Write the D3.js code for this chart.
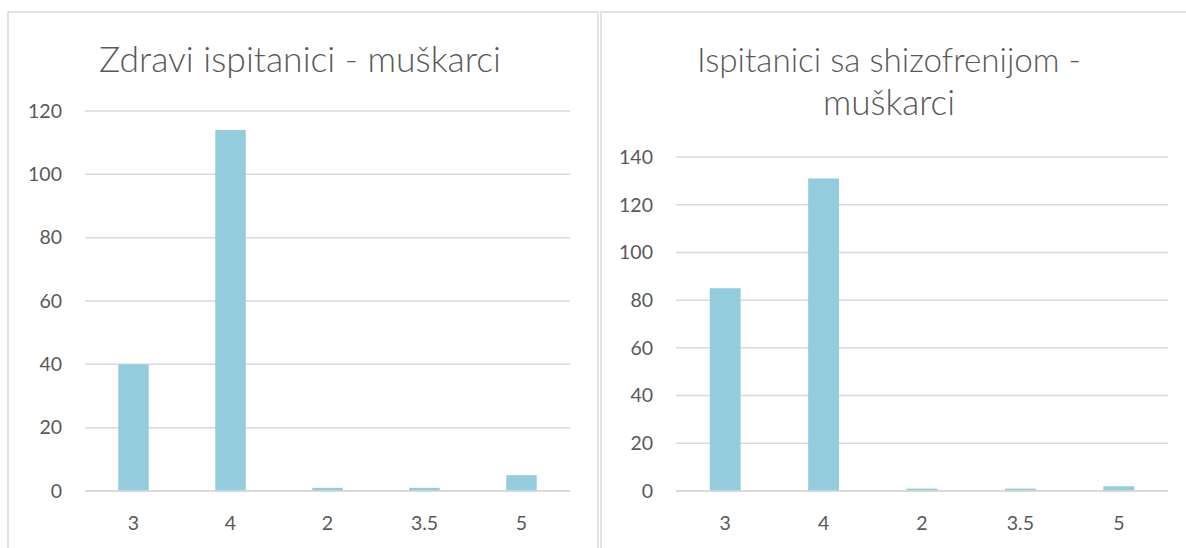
<!DOCTYPE html>
<html><head><meta charset="utf-8">
<script src="https://cdn.jsdelivr.net/npm/d3@7"></script>
<style>
html,body{margin:0;padding:0;background:#fff;}
svg{display:block;}
text{font-family:Lato,"Open Sans","Noto Sans",sans-serif;fill:#595959;}
</style></head>
<body>
<svg id="c" width="1186" height="548"></svg>
<script>
const categories = ["3", "4", "2", "3.5", "5"];
const healthyValues = [40, 114, 1, 1, 5];
const schizoValues = [85, 131, 1, 1, 2];
const healthyTicks = [0, 20, 40, 60, 80, 100, 120];
const schizoTicks = [0, 20, 40, 60, 80, 100, 120, 140];
const titleLeft = ["Zdravi ispitanici - muškarci"];
const titleRight = ["Ispitanici sa shizofrenijom -", "muškarci"];

const svg = d3.select("#c");
const barColor = "#93cddd";
const gridColor = "#d9d9d9";

// panel borders
svg.append("rect").attr("x", 8).attr("y", 12).attr("width", 590).attr("height", 560)
  .attr("fill", "none").attr("stroke", gridColor).attr("stroke-width", 1.5);
svg.append("rect").attr("x", 601).attr("y", 12).attr("width", 600).attr("height", 560)
  .attr("fill", "none").attr("stroke", gridColor).attr("stroke-width", 1.5);

function drawChart(cfg) {
  const g = svg.append("g");
  const x = d3.scaleBand().domain(categories).range([cfg.x0, cfg.x1]).padding(0);
  const y = d3.scaleLinear().domain([0, cfg.max]).range([cfg.yBottom, cfg.yTop]);

  g.selectAll("line.grid").data(cfg.ticks).join("line")
    .attr("x1", cfg.x0).attr("x2", cfg.x1)
    .attr("y1", d => y(d)).attr("y2", d => y(d))
    .attr("stroke", gridColor).attr("stroke-width", 1.5);

  g.selectAll("text.yt").data(cfg.ticks).join("text")
    .attr("x", cfg.labelX).attr("y", d => y(d)).attr("dy", "0.35em")
    .attr("text-anchor", "end").attr("font-size", 19.5).text(d => d);

  const bw = x.bandwidth() * 0.314;
  g.selectAll("rect.bar").data(cfg.values).join("rect")
    .attr("x", (d, i) => x(categories[i]) + x.bandwidth() / 2 - bw / 2)
    .attr("width", bw)
    .attr("y", d => y(d))
    .attr("height", d => y(0) - y(d))
    .attr("fill", barColor);

  g.append("line").attr("x1", cfg.x0).attr("x2", cfg.x1)
    .attr("y1", y(0)).attr("y2", y(0)).attr("stroke", gridColor).attr("stroke-width", 1.5);

  g.selectAll("text.xt").data(categories).join("text")
    .attr("x", d => x(d) + x.bandwidth() / 2).attr("y", 523).attr("dy", "0.35em")
    .attr("text-anchor", "middle").attr("font-size", 19.5).text(d => d);

  cfg.title.forEach((t, i) => {
    const tt = g.append("text").attr("x", cfg.titleX).attr("y", cfg.titleY + i * 43)
      .attr("dy", "0.35em").attr("text-anchor", "middle").attr("font-size", 28)
      .attr("font-weight", 300).text(t);
    const w = tt.node().getComputedTextLength();
    if (cfg.titleW[i]) tt.attr("font-size", 28 * cfg.titleW[i] / w);
  });
}

drawChart({x0: 85, x1: 570, yBottom: 491, yTop: 111, max: 120, ticks: healthyTicks,
  values: healthyValues, labelX: 62, title: titleLeft, titleX: 300, titleY: 60, titleW: [402]});
drawChart({x0: 676, x1: 1168, yBottom: 491, yTop: 157, max: 140, ticks: schizoTicks,
  values: schizoValues, labelX: 653, title: titleRight, titleX: 889, titleY: 60, titleW: [384, 132]});
</script>
</body></html>
